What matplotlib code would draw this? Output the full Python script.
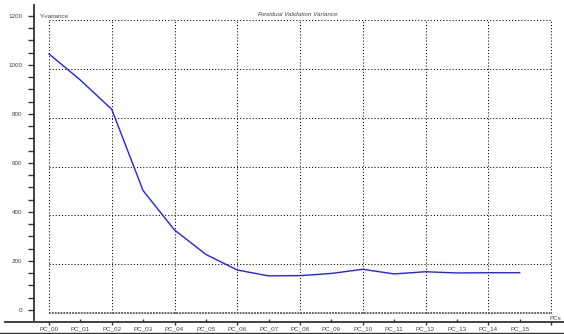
import matplotlib
matplotlib.use('Agg')
import matplotlib.pyplot as plt
from matplotlib.lines import Line2D
from matplotlib.ticker import MultipleLocator

# values
pcs = ['PC_00', 'PC_01', 'PC_02', 'PC_03', 'PC_04', 'PC_05', 'PC_06', 'PC_07',
       'PC_08', 'PC_09', 'PC_10', 'PC_11', 'PC_12', 'PC_13', 'PC_14', 'PC_15']
variance = [1061, 954, 834, 501, 340, 240, 176, 152,
            153, 162, 179, 160, 169, 164, 165, 165]
y_ticks = [0, 200, 400, 600, 800, 1000, 1200]
title = 'Residual Validation Variance'
y_name = 'Y-variance'
x_name = 'PCs'

W, H = 564, 334
plt.rcParams['font.family'] = ['Liberation Sans', 'DejaVu Sans']
fig = plt.figure(figsize=(W / 100, H / 100), dpi=100)


def frac(x0, y0, x1, y1):
    # pixel box (top-down) -> figure fraction rect
    return [x0 / W, 1 - y1 / H, (x1 - x0) / W, (y1 - y0) / H]


grey = '#333333'
label_grey = '#444444'
fs = 4.5

# plotting area with the dotted grid
ax = fig.add_axes(frac(49, 20, 551, 313))
ax.set_xlim(0, 16)
ax.set_ylim(0, 1200)
ax.set_xticks(range(0, 17, 2))
ax.set_yticks(y_ticks[1:])
ax.tick_params(length=0, labelbottom=False, labelleft=False)
ax.grid(True, color='black', linestyle=(0, (1, 2)), linewidth=0.75)
for g in ax.get_xgridlines() + ax.get_ygridlines():
    g.set_clip_on(False)
for s in ax.spines.values():
    s.set_visible(False)
ax.patch.set_visible(False)
ax.axhline(0, color='#555555', lw=1.3, linestyle=(0, (1, 0.6)), clip_on=False)
ax.plot(range(len(pcs)), variance, color='#2020ff', lw=1.0, clip_on=False)

# y axis (slightly offset from the grid, as in the reference)
ay = fig.add_axes(frac(34, 5, 35, 320))
ay.set_ylim(-40.8, 1243.7)
ay.set_xticks([])
ay.set_yticks(y_ticks)
ay.yaxis.set_minor_locator(MultipleLocator(50))
ay.tick_params(axis='y', which='both', direction='out', length=4.3, width=1.0,
               color=grey, labelsize=fs, labelcolor=label_grey, pad=4)
for name, s in ay.spines.items():
    s.set_visible(name == 'left')
ay.spines['left'].set_linewidth(1.3)
ay.spines['left'].set_color(grey)
ay.patch.set_visible(False)

# x axis: even PCs ticked below the line, odd PCs above
px = (551 - 49) / 16
axx = fig.add_axes(frac(5, 321, 564, 322))
axx.set_xlim((5 - 49) / px, (564 - 49) / px)
axx.set_yticks([])
even = list(range(0, len(pcs) + 1, 2))
odd = list(range(1, len(pcs), 2))
axx.set_xticks(even)
axx.set_xticklabels([pcs[i] if i < len(pcs) else '' for i in even])
axx.set_xticks(odd, minor=True)
axx.set_xticklabels([pcs[i] for i in odd], minor=True)
axx.tick_params(axis='x', which='major', direction='out', length=2.2, width=1.0,
                color=grey, labelsize=fs, labelcolor=label_grey, pad=1.2)
axx.tick_params(axis='x', which='minor', direction='in', length=2.2, width=1.0,
                color=grey, labelsize=fs, labelcolor=label_grey, pad=2.8)
for name, s in axx.spines.items():
    s.set_visible(name == 'bottom')
axx.spines['bottom'].set_linewidth(1.3)
axx.spines['bottom'].set_color(grey)
axx.patch.set_visible(False)

fig.text(298 / W, 1 - 15 / H, title, ha='center', va='center', fontsize=fs,
         style='italic', color=label_grey)
fig.text(40 / W, 1 - 16 / H, y_name, ha='left', va='center', fontsize=fs, color=label_grey)
fig.text(550 / W, 1 - 318 / H, x_name, ha='left', va='center', fontsize=fs, color=label_grey)

fig.add_artist(Line2D([0, 1], [1 - 332.5 / H] * 2, transform=fig.transFigure,
                      color=grey, lw=1.0))

fig.savefig('out.png', dpi=100)
